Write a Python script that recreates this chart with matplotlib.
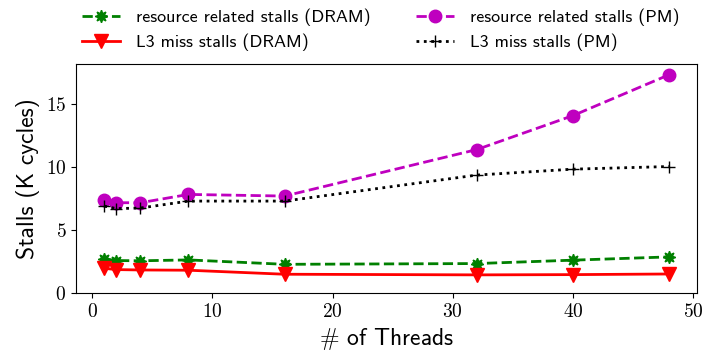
import matplotlib
matplotlib.use("Agg")
import matplotlib.pyplot as plt
from matplotlib.ticker import FuncFormatter

plt.rcParams['mathtext.fontset'] = 'cm'
plt.rcParams['font.family'] = ['cmss10', 'DejaVu Sans']

threads = [1, 2, 4, 8, 16, 32, 40, 48]
res_dram = [2.70, 2.57, 2.55, 2.62, 2.27, 2.33, 2.60, 2.86]
l3_dram = [1.95, 1.85, 1.82, 1.80, 1.48, 1.43, 1.45, 1.50]
res_pm = [7.38, 7.17, 7.17, 7.83, 7.70, 11.40, 14.10, 17.35]
l3_pm = [6.90, 6.70, 6.75, 7.30, 7.30, 9.37, 9.84, 10.05]

fig = plt.figure(figsize=(7.05, 3.58), dpi=100)
ax = fig.add_axes([0.108, 0.182, 0.881, 0.639])

ax.plot(threads, res_dram, color='g', ls='--', marker=(8, 1, 0), ms=9, lw=2,
        label='resource related stalls (DRAM)')
ax.plot(threads, l3_dram, color='r', ls='-', marker='v', ms=10, lw=2,
        label='L3 miss stalls (DRAM)')
ax.plot(threads, res_pm, color='m', ls='--', marker='o', ms=9, lw=2,
        label='resource related stalls (PM)')
ax.plot(threads, l3_pm, color='k', ls=':', marker='+', ms=9, lw=2,
        label='L3 miss stalls (PM)')

ax.set_ylim(0, 18.2)
ax.set_xticks([0, 10, 20, 30, 40, 50])
ax.set_yticks([0, 5, 10, 15])
# tick numbers in roman math font
fmt = FuncFormatter(lambda v, p: '$%g$' % v)
ax.xaxis.set_major_formatter(fmt)
ax.yaxis.set_major_formatter(fmt)
ax.tick_params(labelsize=14)

ax.set_xlabel(r'$\#$ of Threads', fontsize=17)
ax.set_ylabel('Stalls (K cycles)', fontsize=17)

fig.legend(loc='upper left', bbox_to_anchor=(0.093, 1.022), ncol=2,
           frameon=False, fontsize=13, columnspacing=2.5, handlelength=2.1,
           handletextpad=0.9, labelspacing=0.45)

fig.savefig('out.png', dpi=100)
